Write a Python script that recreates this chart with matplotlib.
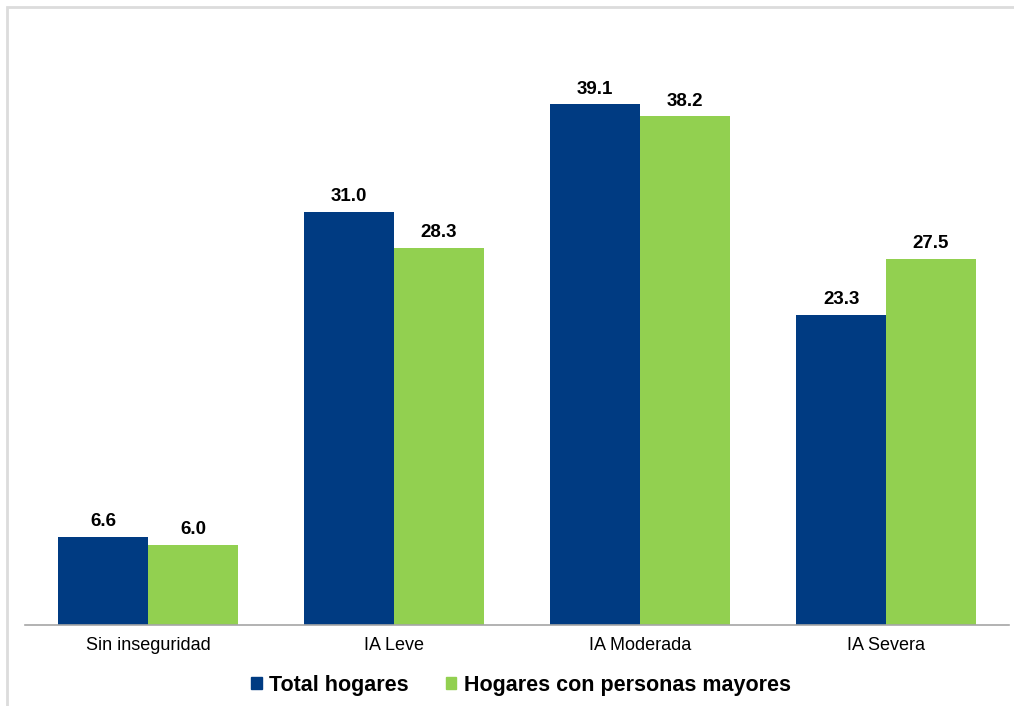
import numpy as np
import matplotlib.pyplot as plt
from matplotlib.patches import Rectangle, Patch

plt.rcParams['font.family'] = ['Liberation Sans', 'DejaVu Sans']

categorias = ['Sin inseguridad', 'IA Leve', 'IA Moderada', 'IA Severa']
total_hogares = [6.6, 31.0, 39.1, 23.3]
hogares_mayores = [6.0, 28.3, 38.2, 27.5]
series = ['Total hogares', 'Hogares con personas mayores']

azul = '#003b82'
verde = '#92d050'

W, H = 1014, 706
fig = plt.figure(figsize=(W / 100, H / 100), dpi=100)
fig.patch.set_facecolor('white')

# light frame around the chart area
fig.add_artist(Rectangle((7 / W, -0.1), 1.2, 1 - 7 / H + 0.1, transform=fig.transFigure,
                         fill=False, edgecolor='#dcdcdc', linewidth=2))

ax = fig.add_axes([25 / W, (H - 625) / H, 984 / W, 600 / H])

x = np.arange(len(categorias))
w = 0.365
b1 = ax.bar(x - w / 2, total_hogares, w, color=azul, label=series[0])
b2 = ax.bar(x + w / 2, hogares_mayores, w, color=verde, label=series[1])

for bars, vals in ((b1, total_hogares), (b2, hogares_mayores)):
    for r, v in zip(bars, vals):
        ax.text(r.get_x() + r.get_width() / 2, v + 0.5, f'{v:.1f}',
                ha='center', va='bottom', fontsize=13.5, fontweight='bold')

ax.set_xlim(-0.5, 3.5)
ax.set_ylim(0, 600 / 13.32)
ax.set_xticks(x)
ax.set_xticklabels(categorias, fontsize=13)
ax.tick_params(axis='x', length=0, pad=9)
ax.set_yticks([])
for s in ('top', 'right', 'left'):
    ax.spines[s].set_visible(False)
ax.spines['bottom'].set_color('#a6a6a6')
ax.spines['bottom'].set_linewidth(1.2)

handles = [Patch(color=azul), Patch(color=verde)]
fig.legend(handles, series, loc='center', bbox_to_anchor=(521 / W, 1 - 685 / H),
           ncol=2, frameon=False, prop={'weight': 'bold', 'size': 15.5},
           handlelength=0.5, handleheight=0.5, handletextpad=0.35, columnspacing=1.7)

fig.savefig('out.png', dpi=100, facecolor='white')
